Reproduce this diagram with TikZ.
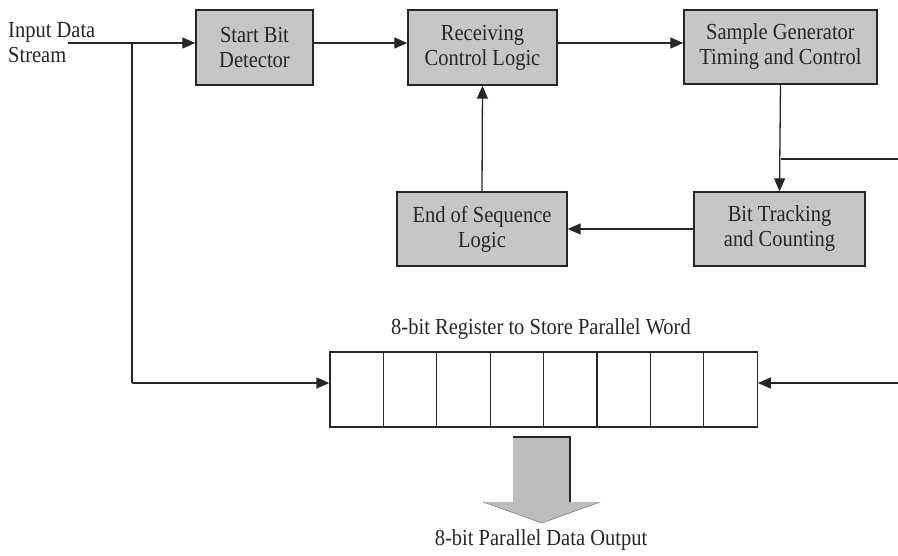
\documentclass[tikz,border=0pt]{standalone}
\usepackage{fontspec}
\usepackage{graphicx}
\setmainfont{Liberation Serif}
\usetikzlibrary{arrows.meta,calc}
\definecolor{ink}{HTML}{262626}
\definecolor{boxfill}{HTML}{C6C6C6}
\definecolor{fatfill}{HTML}{BDBDBD}
% slightly tall lettering
\newcommand{\tl}[1]{\scalebox{1}[1.12]{#1}}
\begin{document}
\begin{tikzpicture}[x=1pt,y=-1pt,
  every node/.style={font=\fontsize{20.5}{25}\selectfont, text=ink},
  block/.style={draw=ink, line width=1.4pt, fill=boxfill, align=center, inner sep=0pt},
  link/.style={draw=ink, line width=1.3pt},
  arr/.style={link, -{Triangle[length=13pt,width=11pt]}},
  cell/.style={draw=ink, line width=1.3pt, minimum width=53.4pt, minimum height=75pt, inner sep=0pt}
]
\useasboundingbox (0,0) rectangle (898,555);

% functional blocks
\node[block, minimum width=117pt, minimum height=75pt] (start) at (254.5,47.5) {\tl{Start Bit}\\\tl{Detector}};
\node[block, minimum width=149pt, minimum height=75pt] (recv) at (482.5,47.5) {\tl{Receiving}\\\tl{Control Logic}};
\node[block, minimum width=193pt, minimum height=74pt] (samp) at (780.5,47) {\tl{Sample Generator}\\\tl{Timing and Control}};
\node[block, minimum width=171pt, minimum height=74pt] (bit) at (779.5,229) {\tl{Bit Tracking}\\\tl{and Counting}};
\node[block, minimum width=170pt, minimum height=74pt] (eos) at (482,229) {\tl{End of Sequence}\\\tl{Logic}};

% input label
\node[align=left, anchor=north west, inner sep=0pt] (inlbl) at (8,22) {\tl{Input Data}\\\tl{Stream}};

% 8-bit register cells
\foreach \i in {0,...,7} {
  \node[cell] (c\i) at ({330+26.7+53.4*\i},389.5) {};
}
\node[inner sep=0pt] (reglbl) at (541,329) {\tl{8-bit Register to Store Parallel Word}};

% wiring
\coordinate (inl) at (68,43);
\coordinate (tap) at (132,43);
\coordinate (low) at (132,383);
\coordinate (edgeA) at (898,159);
\coordinate (edgeB) at (898,383);

\draw[link] (inl) -- (tap);
\draw[arr] (tap) -- (tap -| start.west);
\draw[arr] (start.east |- tap) -- (recv.west |- tap);
\draw[arr] (recv.east |- tap) -- (samp.west |- tap);
\draw[arr] (samp.south) -- (bit.north);
\draw[link] (samp.south |- edgeA) -- (edgeA);
\draw[arr] (bit.west) -- (eos.east);
\draw[arr] (eos.north) -- (recv.south);
\draw[link] (tap) -- (low);
\draw[arr] (low) -- (low -| c0.west);
\draw[arr] (edgeB) -- (edgeB -| c7.east);

% wide output arrow
\coordinate (fa1) at (513,437);
\coordinate (fa2) at (570,437);
\coordinate (fa3) at (570,502);
\coordinate (fa4) at (600,502);
\coordinate (fa5) at (542,523);
\coordinate (fa6) at (483,502);
\coordinate (fa7) at (513,502);
\fill[fatfill] (fa1) -- (fa2) -- (fa3) -- (fa4) -- (fa5) -- (fa6) -- (fa7) -- cycle;
\draw[ink, line width=1.2pt] (fa1) -- (fa2) -- (fa3);
\draw[gray, line width=0.6pt] (fa4) -- (fa5) -- (fa6);

\node[inner sep=0pt] (outlbl) at (541,540) {\tl{8-bit Parallel Data Output}};
\end{tikzpicture}
\end{document}
